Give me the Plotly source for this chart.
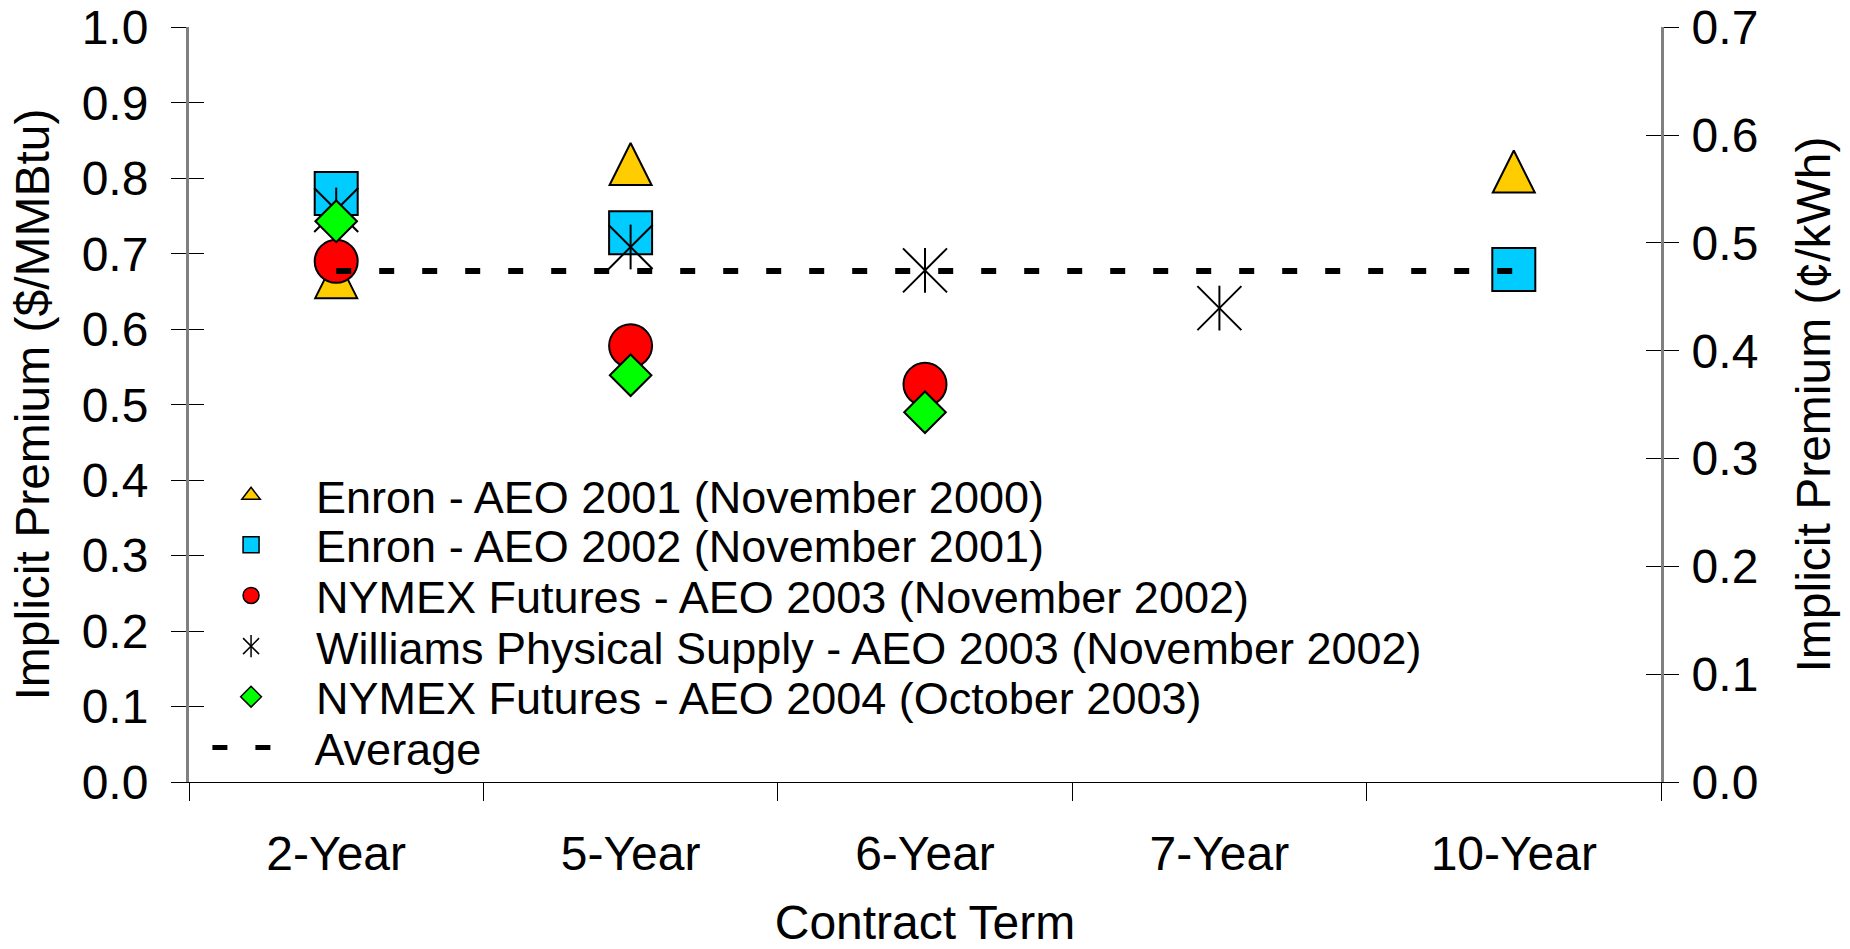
import plotly.graph_objects as go

categories = ["2-Year", "5-Year", "6-Year", "7-Year", "10-Year"]
enron_2001 = [0.669, 0.819, None, None, 0.809]
enron_2002 = [0.78, 0.728, None, None, 0.679]
nymex_2003 = [0.69, 0.578, 0.527, None, None]
williams_2003 = [0.758, 0.709, 0.678, 0.628, None]
nymex_2004 = [0.743, 0.539, 0.49, None, None]
average_value = 0.677
average_series = [average_value] * len(categories)

series_names = [
    "Enron - AEO 2001 (November 2000)",
    "Enron - AEO 2002 (November 2001)",
    "NYMEX Futures - AEO 2003 (November 2002)",
    "Williams Physical Supply - AEO 2003 (November 2002)",
    "NYMEX Futures - AEO 2004 (October 2003)",
    "Average",
]
left_ticks = [0.0, 0.1, 0.2, 0.3, 0.4, 0.5, 0.6, 0.7, 0.8, 0.9, 1.0]
right_ticks = [0.0, 0.1, 0.2, 0.3, 0.4, 0.5, 0.6, 0.7]
LEFT_RANGE = [0, 1.0005]
RIGHT_RANGE = [0, 0.70035]

FONT = "Liberation Sans, Arial, sans-serif"
OUT = dict(color="black", width=2)
EMPTY = [None]

fig = go.Figure()

# ---- data traces (legend handled by legend-only entries below) ----
fig.add_trace(go.Scatter(
    x=categories, y=enron_2001, mode="markers", name=series_names[0],
    marker=dict(symbol="arrow-down", angle=180, standoff=21, size=42,
                color="#FFCC00", line=OUT), showlegend=False))
fig.add_trace(go.Scatter(
    x=categories, y=enron_2002, mode="markers", name=series_names[1],
    marker=dict(symbol="square", size=43, color="#00CCFF", line=OUT),
    showlegend=False))
fig.add_trace(go.Scatter(
    x=categories, y=nymex_2003, mode="markers", name=series_names[2],
    marker=dict(symbol="circle", size=43, color="#FF0000", line=OUT),
    showlegend=False))
fig.add_trace(go.Scatter(
    x=categories, y=williams_2003, mode="markers", name=series_names[3],
    marker=dict(symbol="x-thin-open", size=44, color="black",
                line=dict(color="black", width=2)), showlegend=False))
fig.add_trace(go.Scatter(
    x=categories, y=williams_2003, mode="markers", name=series_names[3],
    marker=dict(symbol="line-ns-open", size=32, color="black",
                line=dict(color="black", width=2)), showlegend=False))
fig.add_trace(go.Scatter(
    x=categories, y=nymex_2004, mode="markers", name=series_names[4],
    marker=dict(symbol="diamond", size=32, color="#00FF00", line=OUT),
    showlegend=False))
fig.add_trace(go.Scatter(
    x=categories, y=average_series, mode="lines", name=series_names[5],
    line=dict(color="black", width=6, dash="15px,28px"), showlegend=False))

# ---- legend entries ----
LM = dict(size=16, line=dict(color="black", width=1.5))
fig.add_trace(go.Scatter(x=EMPTY, y=EMPTY, mode="markers", name=series_names[0],
                         marker=dict(symbol="triangle-up", color="#FFCC00", **LM),
                         legend="legend"))
fig.add_trace(go.Scatter(x=EMPTY, y=EMPTY, mode="markers", name=series_names[1],
                         marker=dict(symbol="square", color="#00CCFF", **LM),
                         legend="legend2"))
fig.add_trace(go.Scatter(x=EMPTY, y=EMPTY, mode="markers", name=series_names[2],
                         marker=dict(symbol="circle", color="#FF0000", **LM),
                         legend="legend3"))
fig.add_trace(go.Scatter(x=EMPTY, y=EMPTY, mode="markers", name=series_names[3],
                         marker=dict(symbol="x-thin-open", color="black", **LM),
                         legend="legend4"))
fig.add_trace(go.Scatter(x=EMPTY, y=EMPTY, mode="markers", name="",
                         marker=dict(symbol="line-ns-open", color="black", **LM),
                         legend="legend7"))
fig.add_trace(go.Scatter(x=EMPTY, y=EMPTY, mode="markers", name=series_names[4],
                         marker=dict(symbol="diamond", color="#00FF00", **LM),
                         legend="legend5"))
fig.add_trace(go.Scatter(x=EMPTY, y=EMPTY, mode="lines", name=series_names[5],
                         line=dict(color="black", width=5, dash="15px,28px,15px,200px"),
                         legend="legend6"))

# ---- anchors for secondary axes (no visible marks) ----
for ax in ["y2", "y3", "y4"]:
    fig.add_trace(go.Scatter(x=EMPTY, y=EMPTY, yaxis=ax, mode="markers",
                             showlegend=False, hoverinfo="skip"))

row_y = [0.3774, 0.3119, 0.2447, 0.1776, 0.1106, 0.0434]
row_y = [v + 0.002 for v in row_y]
leg_common = dict(xanchor="left", yanchor="middle", bgcolor="rgba(0,0,0,0)",
                  font=dict(family=FONT, size=45, color="black"))
legends = {}
for i, yy in enumerate(row_y):
    key = "legend" if i == 0 else f"legend{i+1}"
    if i == 5:
        legends[key] = dict(y=yy, x=0.0125, itemwidth=97, **leg_common)
    else:
        legends[key] = dict(y=yy, x=-0.002, itemwidth=120, **leg_common)
legends["legend7"] = dict(y=row_y[3], x=-0.002, itemwidth=120, **leg_common)

axis_font = dict(family=FONT, size=48, color="black")

fig.update_layout(
    width=1850, height=949,
    margin=dict(l=189, r=189, t=27, b=167, autoexpand=False),
    paper_bgcolor="white", plot_bgcolor="white",
    font=dict(family=FONT, color="black"),
    showlegend=True,
    xaxis=dict(
        type="category", categoryorder="array", categoryarray=categories,
        range=[-0.5, 4.5], showline=True, linecolor="black", linewidth=1,
        ticks="outside", tickson="boundaries", ticklen=18, tickcolor="black",
        tickwidth=1, showgrid=False, zeroline=False, tickfont=axis_font,
        ticklabelstandoff=29, automargin=False,
        title=dict(text="Contract Term", font=axis_font, standoff=33),
    ),
    yaxis=dict(
        range=LEFT_RANGE, tickvals=left_ticks, tickformat=".1f",
        showline=True, linecolor="#808080", linewidth=3,
        ticks="outside", ticklen=15, tickcolor="black", tickwidth=1,
        showgrid=False, zeroline=False, tickfont=axis_font,
        ticklabelstandoff=13, ticklabeloverflow="allow", automargin=False,
        title=dict(text="Implicit Premium ($/MMBtu)", font=axis_font, standoff=17),
    ),
    yaxis2=dict(
        range=RIGHT_RANGE, tickvals=right_ticks, tickformat=".1f",
        overlaying="y", side="right", anchor="x",
        showline=True, linecolor="#808080", linewidth=3,
        ticks="outside", ticklen=15, tickcolor="black", tickwidth=1,
        showgrid=False, zeroline=False, tickfont=axis_font,
        ticklabelstandoff=3, ticklabeloverflow="allow", automargin=False,
        title=dict(text="Implicit Premium (¢/kWh)", font=axis_font, standoff=40),
    ),
    yaxis3=dict(
        range=LEFT_RANGE, tickvals=left_ticks, overlaying="y", side="left", anchor="x",
        showline=False, ticks="inside", ticklen=15, tickcolor="black", tickwidth=1,
        showticklabels=False, showgrid=False, zeroline=False,
    ),
    yaxis4=dict(
        range=RIGHT_RANGE, tickvals=right_ticks, overlaying="y", side="right", anchor="x",
        showline=False, ticks="inside", ticklen=15, tickcolor="black", tickwidth=1,
        showticklabels=False, showgrid=False, zeroline=False,
    ),
    **legends,
)

fig.write_html("out.html", config={"displayModeBar": False},
               post_script="document.body.style.margin='0';")
